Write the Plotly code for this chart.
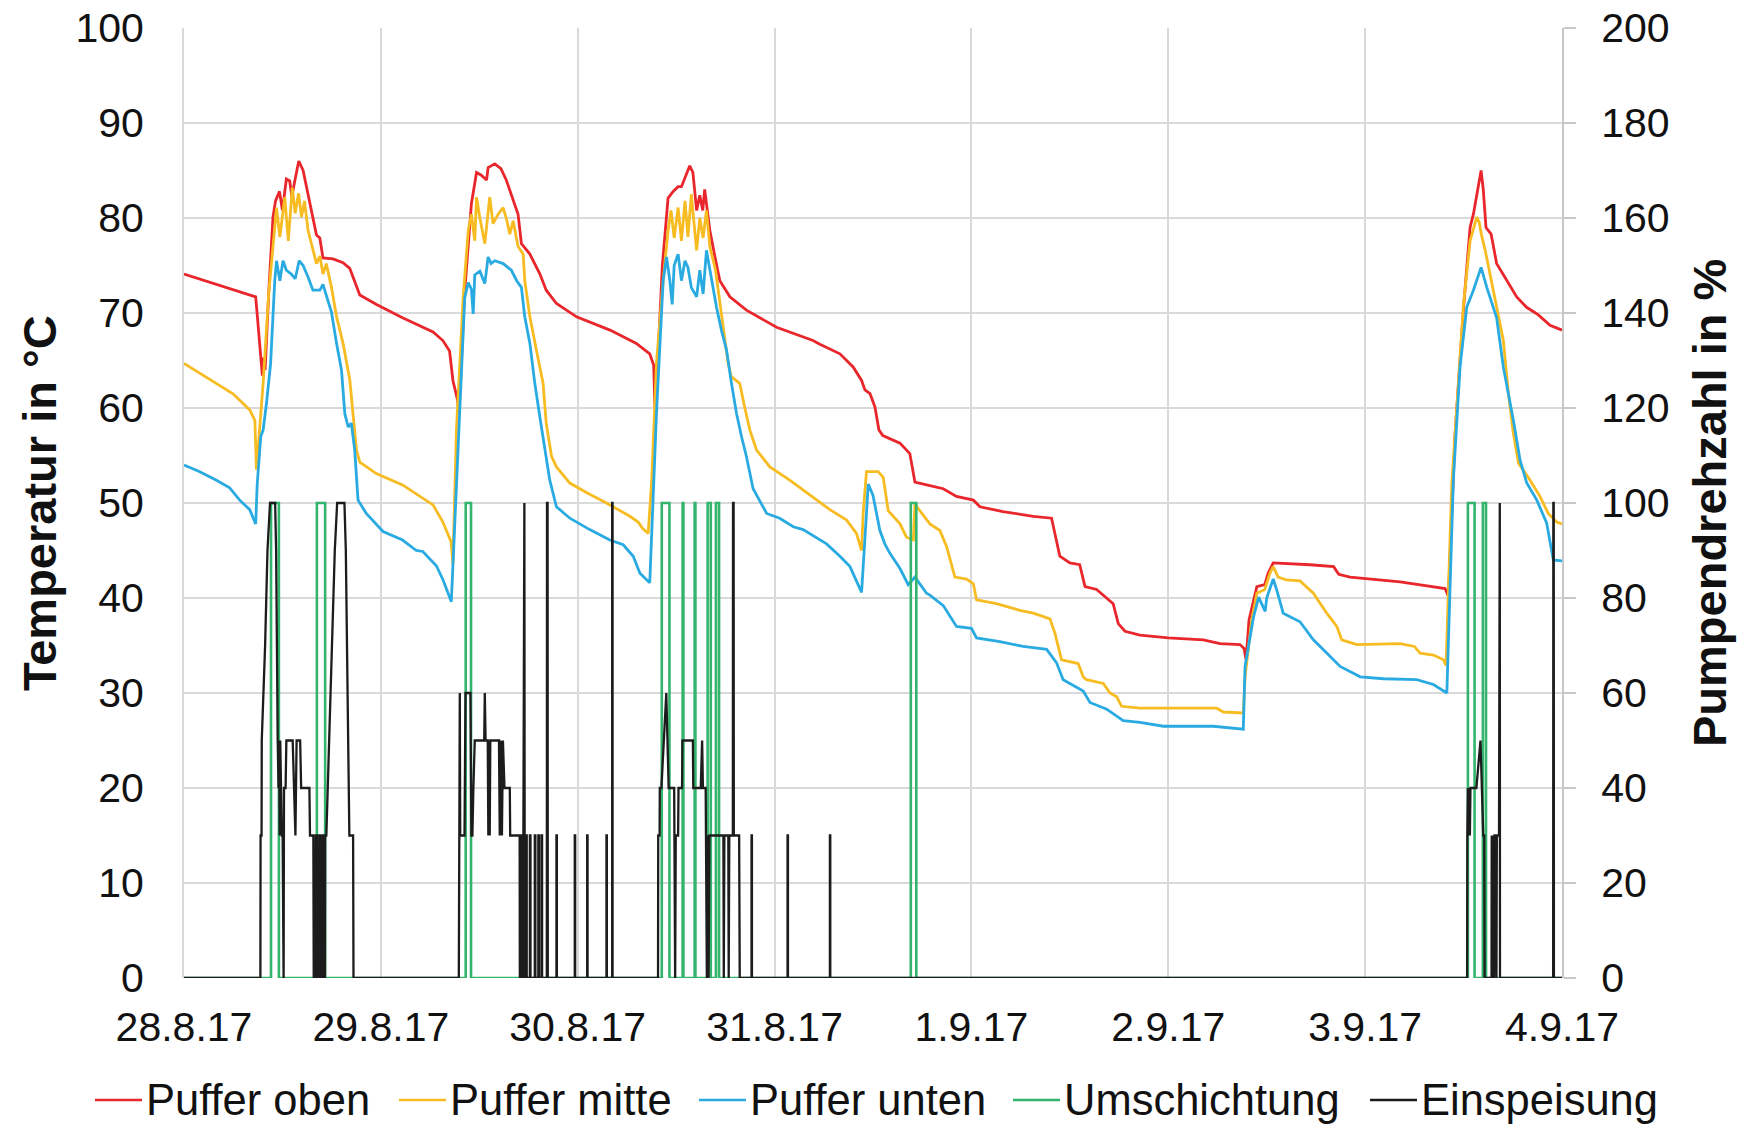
import pandas as pd
import plotly.graph_objects as go

# ---------------------------------------------------------------------------
# Data: time in days after 28.8.17 00:00, temperatures in °C, pump speeds in %
# ---------------------------------------------------------------------------
start = pd.Timestamp("2017-08-28")
n_days = 7
tick_format = "%-d.%-m.%y"

t_oben = [0.0, 0.364, 0.37, 0.398, 0.405, 0.412, 0.43, 0.452, 0.465, 0.485, 0.5, 0.52, 0.537, 0.548,
          0.56, 0.583, 0.605, 0.63, 0.656, 0.673, 0.69, 0.706, 0.757, 0.808, 0.842, 0.893, 0.978,
          1.11, 1.265, 1.315, 1.349, 1.366, 1.39, 1.397, 1.425, 1.452, 1.46, 1.486, 1.51, 1.537,
          1.545, 1.579, 1.61, 1.637, 1.672, 1.697, 1.714, 1.757, 1.808, 1.84, 1.892, 1.994, 2.164,
          2.298, 2.366, 2.386, 2.392, 2.40, 2.43, 2.459, 2.485, 2.51, 2.527, 2.545, 2.569, 2.585,
          2.604, 2.62, 2.635, 2.645, 2.66, 2.671, 2.70, 2.722, 2.773, 2.857, 3.01, 3.195, 3.23,
          3.332, 3.40, 3.442, 3.459, 3.485, 3.51, 3.53, 3.55, 3.637, 3.687, 3.713, 3.772, 3.857,
          3.924, 4.01, 4.043, 4.16, 4.314, 4.407, 4.449, 4.50, 4.55, 4.577, 4.636, 4.695, 4.72,
          4.746, 4.78, 4.856, 5.0, 5.178, 5.263, 5.364, 5.385, 5.395, 5.41, 5.45, 5.49, 5.507,
          5.533, 5.72, 5.84, 5.866, 5.923, 6.178, 6.406, 6.423, 6.457, 6.50, 6.533, 6.55, 6.567,
          6.589, 6.60, 6.614, 6.64, 6.668, 6.70, 6.77, 6.82, 6.88, 6.939, 7.0]
puffer_oben = [74.1, 71.7, 70.3, 63.4, 65.3, 64.0, 72.0, 80.1, 81.8, 82.8, 80.8, 84.1, 83.9, 82.2,
               83.6, 86.0, 85.0, 82.5, 80.1, 78.2, 77.9, 75.8, 75.7, 75.3, 74.7, 71.9, 70.9,
               69.5, 68.0, 67.1, 66.0, 62.9, 60.8, 59.4, 72.0, 80.1, 81.5, 84.8, 84.5, 84.0,
               85.3, 85.7, 85.2, 84.0, 81.8, 80.4, 77.3, 76.2, 74.1, 72.4, 71.0, 69.6, 68.2,
               66.8, 65.7, 64.5, 60.1, 62.0, 75.0, 82.1, 82.8, 83.3, 83.3, 84.2, 85.5, 84.8,
               80.8, 82.4, 80.8, 83.0, 80.4, 78.7, 75.6, 73.4, 71.7, 70.3, 68.5, 67.1, 66.7,
               65.7, 64.3, 62.9, 61.9, 61.5, 60.1, 57.7, 57.1, 56.3, 55.2, 52.2, 51.9, 51.5,
               50.7, 50.3, 49.6, 49.1, 48.6, 48.4, 44.4, 43.7, 43.5, 41.2, 40.9, 39.8, 39.4,
               37.3, 36.5, 36.1, 35.8, 35.6, 35.2, 35.1, 34.7, 33.5, 37.7, 41.2, 41.4, 42.6,
               43.7, 43.5, 43.3, 42.5, 42.2, 41.7, 41.0, 40.2, 57.3, 70.6, 79.0, 80.4, 82.5,
               85.0, 83.0, 79.0, 78.3, 75.2, 74.1, 71.7, 70.6, 69.8, 68.7, 68.2]

t_mitte = [0.0, 0.165, 0.249, 0.334, 0.36, 0.368, 0.38, 0.402, 0.43, 0.461, 0.47, 0.487, 0.512, 0.53,
           0.55, 0.565, 0.582, 0.597, 0.612, 0.63, 0.655, 0.673, 0.69, 0.706, 0.723, 0.749, 0.775,
           0.808, 0.842, 0.859, 0.876, 0.893, 0.977, 1.11, 1.265, 1.315, 1.357, 1.366, 1.384,
           1.418, 1.444, 1.46, 1.477, 1.486, 1.503, 1.528, 1.553, 1.57, 1.596, 1.621, 1.637,
           1.655, 1.672, 1.697, 1.723, 1.731, 1.757, 1.79, 1.824, 1.84, 1.867, 1.892, 1.96, 2.044,
           2.146, 2.265, 2.307, 2.33, 2.358, 2.376, 2.40, 2.434, 2.459, 2.474, 2.49, 2.51, 2.527,
           2.545, 2.56, 2.577, 2.594, 2.604, 2.62, 2.637, 2.654, 2.671, 2.70, 2.722, 2.747, 2.764,
           2.78, 2.823, 2.848, 2.874, 2.908, 2.976, 3.077, 3.196, 3.281, 3.366, 3.416, 3.442,
           3.45, 3.467, 3.526, 3.552, 3.577, 3.637, 3.67, 3.705, 3.713, 3.73, 3.789, 3.84, 3.874,
           3.916, 3.975, 4.01, 4.026, 4.127, 4.246, 4.314, 4.399, 4.424, 4.458, 4.542, 4.568,
           4.585, 4.67, 4.704, 4.738, 4.763, 4.856, 5.093, 5.246, 5.28, 5.381, 5.39, 5.424, 5.45,
           5.49, 5.516, 5.533, 5.558, 5.6, 5.669, 5.737, 5.805, 5.856, 5.881, 5.958, 6.177, 6.25,
           6.279, 6.347, 6.398, 6.411, 6.44, 6.47, 6.50, 6.533, 6.567, 6.58, 6.59, 6.61, 6.635,
           6.668, 6.702, 6.728, 6.753, 6.779, 6.838, 6.888, 6.93, 6.973, 7.0]
puffer_mitte = [64.7, 62.6, 61.5, 59.8, 58.7, 53.5, 57.0, 62.6, 72.0, 79.4, 81.1, 78.0, 82.2, 77.6,
                83.2, 80.5, 82.6, 80.1, 81.8, 78.7, 76.6, 75.2, 76.0, 74.1, 75.2, 72.7, 69.6,
                66.8, 63.0, 59.4, 55.6, 54.3, 53.1, 51.9, 49.8, 48.0, 45.9, 43.6, 57.7,
                71.6, 78.7, 80.4, 77.6, 82.2, 80.0, 77.3, 82.2, 79.4, 80.4, 81.1, 80.0,
                78.3, 79.7, 77.0, 76.2, 73.4, 69.6, 66.1, 62.6, 58.4, 54.9, 53.8, 52.1, 51.1,
                50.0, 48.6, 48.0, 47.3, 46.8, 52.4, 64.7, 73.4, 78.7, 80.8, 77.9, 81.1, 77.6,
                81.8, 78.0, 82.5, 78.7, 76.6, 80.0, 77.9, 80.8, 77.0, 74.5, 71.0, 67.5, 64.7,
                63.3, 62.6, 60.1, 57.7, 55.6, 53.8, 52.4, 50.6, 49.3, 48.2, 46.8, 45.0,
                48.9, 53.3, 53.3, 52.7, 49.2, 47.8, 46.4, 46.1, 49.9, 49.4, 47.8, 47.1, 45.4,
                42.2, 42.0, 41.5, 39.8, 39.4, 38.7, 38.4, 37.8, 36.3, 33.5, 33.1, 31.7,
                31.4, 31.0, 30.0, 29.6, 28.6, 28.4, 28.4, 28.4, 28.0, 27.9, 31.7, 37.7, 40.5,
                40.9, 42.6, 43.3, 42.2, 41.9, 41.8, 40.5, 38.4, 37.0, 35.6, 35.1, 35.2, 34.9,
                34.2, 34.0, 33.5, 32.9, 52.0, 62.0, 71.0, 77.6, 80.1, 79.5, 78.3, 76.6, 74.1,
                70.6, 67.1, 61.5, 57.3, 54.2, 52.4, 50.7, 48.9, 48.0, 47.8]

t_unten = [0.0, 0.08, 0.165, 0.232, 0.283, 0.334, 0.364, 0.372, 0.39, 0.402, 0.419, 0.44, 0.461, 0.47,
           0.487, 0.503, 0.52, 0.545, 0.565, 0.585, 0.605, 0.63, 0.655, 0.69, 0.706, 0.723, 0.749,
           0.775, 0.80, 0.817, 0.834, 0.85, 0.867, 0.884, 0.926, 1.011, 1.11, 1.18, 1.213, 1.282,
           1.316, 1.358, 1.40, 1.426, 1.444, 1.46, 1.469, 1.477, 1.503, 1.528, 1.545, 1.56, 1.579,
           1.621, 1.663, 1.69, 1.714, 1.731, 1.757, 1.782, 1.808, 1.833, 1.858, 1.892, 1.96, 2.061,
           2.163, 2.231, 2.282, 2.316, 2.35, 2.366, 2.40, 2.434, 2.451, 2.468, 2.48, 2.49, 2.51,
           2.527, 2.545, 2.56, 2.577, 2.604, 2.62, 2.637, 2.654, 2.671, 2.688, 2.705, 2.73, 2.756,
           2.781, 2.807, 2.832, 2.857, 2.891, 2.942, 2.96, 3.026, 3.095, 3.145, 3.264, 3.332,
           3.383, 3.442, 3.476, 3.50, 3.535, 3.56, 3.586, 3.637, 3.679, 3.713, 3.772, 3.789,
           3.857, 3.924, 4.0, 4.026, 4.144, 4.263, 4.382, 4.432, 4.466, 4.568, 4.602, 4.687,
           4.771, 4.856, 4.975, 5.229, 5.381, 5.39, 5.433, 5.459, 5.492, 5.50, 5.533, 5.55, 5.584,
           5.669, 5.737, 5.805, 5.873, 5.975, 6.093, 6.262, 6.347, 6.415, 6.448, 6.482, 6.516,
           6.55, 6.589, 6.618, 6.668, 6.702, 6.753, 6.787, 6.821, 6.872, 6.922, 6.956, 7.0]
puffer_unten = [54.0, 53.3, 52.4, 51.6, 50.3, 49.3, 47.8, 52.0, 57.0, 57.7, 60.5, 64.7, 73.4, 75.5,
                73.4, 75.5, 74.5, 74.1, 73.6, 75.5, 75.0, 73.8, 72.4, 72.4, 73.0, 71.9, 70.1,
                66.8, 64.0, 59.4, 58.0, 58.4, 55.6, 50.3, 48.9, 47.0, 46.1, 45.0, 44.9, 43.4,
                41.9, 39.6, 59.4, 71.6, 73.2, 72.5, 69.9, 74.0, 74.4, 73.1, 75.9, 75.2, 75.5,
                75.2, 74.5, 73.4, 72.7, 69.6, 66.8, 62.6, 59.0, 55.6, 52.4, 49.6, 48.4, 47.2,
                46.1, 45.6, 44.4, 42.6, 41.9, 41.6, 59.4, 73.4, 75.9, 73.4, 70.9, 75.0, 76.2,
                73.4, 75.5, 74.8, 72.7, 71.7, 74.5, 72.0, 76.6, 74.5, 72.4, 70.6, 68.2, 66.1,
                62.6, 59.4, 57.0, 54.9, 51.5, 49.6, 48.9, 48.4, 47.5, 47.2, 45.7, 44.4,
                43.3, 40.6, 52.0, 50.8, 47.1, 45.7, 44.7, 43.1, 41.4, 42.2, 40.5, 40.3,
                39.2, 37.0, 36.8, 35.8, 35.4, 34.9, 34.6, 33.2, 31.4, 30.2, 29.0, 28.3,
                27.1, 26.9, 26.5, 26.5, 26.2, 32.8, 38.0, 40.1, 38.6, 40.0, 42.0, 40.9, 38.4,
                37.5, 35.6, 34.2, 32.8, 31.7, 31.5, 31.4, 30.9, 30.0, 52.4, 64.3, 70.6,
                72.4, 74.8, 72.7, 69.5, 64.3, 58.7, 54.5, 52.1, 50.3, 47.9, 44.0, 43.9]

# Umschichtung: pump runs at 100 % between each start and end time
umschichtung_start = [0.442, 0.675, 1.431, 2.427, 2.533, 2.594, 2.660, 2.702, 3.692, 6.522, 6.598]
umschichtung_end = [0.482, 0.717, 1.458, 2.466, 2.537, 2.598, 2.676, 2.718, 3.720, 6.556, 6.614]
umschichtung_level = 100

t_einsp = [0.0, 0.388, 0.389, 0.394, 0.395, 0.405, 0.412, 0.424, 0.437, 0.463, 0.468, 0.476, 0.480,
           0.483, 0.486, 0.489, 0.493, 0.497, 0.501, 0.503, 0.506, 0.508, 0.516, 0.520, 0.552,
           0.566, 0.572, 0.590, 0.595, 0.637, 0.640, 0.657, 0.659, 0.668, 0.669, 0.675, 0.676,
           0.686, 0.687, 0.692, 0.693, 0.702, 0.703, 0.708, 0.709, 0.716, 0.717, 0.723, 0.743,
           0.752, 0.766, 0.778, 0.815, 0.822, 0.828, 0.836, 0.840, 0.859, 0.861,
           1.396, 1.397, 1.400, 1.401, 1.403, 1.425, 1.430, 1.455, 1.460, 1.465, 1.470, 1.477,
           1.525, 1.528, 1.532, 1.543, 1.546, 1.549, 1.553, 1.556, 1.600, 1.604, 1.608, 1.615,
           1.620, 1.628, 1.655, 1.657, 1.705, 1.706, 1.712, 1.712, 1.716, 1.716, 1.720, 1.720,
           1.724, 1.726, 1.729, 1.731, 1.737, 1.737, 1.741, 1.741, 1.757, 1.757, 1.760, 1.760,
           1.782, 1.782, 1.785, 1.785, 1.800, 1.800, 1.803, 1.803, 1.816, 1.816, 1.819, 1.819,
           1.843, 1.844, 1.847, 1.848, 1.892, 1.892, 1.894, 1.894, 1.985, 1.985, 1.987, 1.987,
           2.048, 2.048, 2.050, 2.050, 2.146, 2.146, 2.148, 2.148, 2.175, 2.175, 2.177, 2.177,
           2.408, 2.409, 2.416, 2.417, 2.425, 2.450, 2.462, 2.490, 2.492, 2.495, 2.498, 2.510,
           2.512, 2.530, 2.532, 2.585, 2.587, 2.625, 2.632, 2.636, 2.650, 2.652, 2.656, 2.660,
           2.665, 2.669, 2.740, 2.742, 2.745, 2.765, 2.767, 2.770, 2.788, 2.789, 2.792, 2.793,
           2.820, 2.823, 2.883, 2.883, 2.885, 2.885, 3.066, 3.066, 3.068, 3.068, 3.281, 3.281,
           3.283, 3.283,
           6.518, 6.519, 6.522, 6.525, 6.528, 6.532, 6.535, 6.565, 6.583, 6.586, 6.600, 6.605,
           6.607, 6.642, 6.643, 6.648, 6.650, 6.655, 6.657, 6.665, 6.667, 6.669, 6.680, 6.682,
           6.684, 6.685, 6.955, 6.956, 6.958, 6.959, 7.0]
einspeisung = [0, 0, 30, 30, 50, 60, 70, 90, 100, 100, 90, 50, 40,
               50, 30, 50, 40, 30, 30, 0, 0, 40, 40, 50, 50,
               30, 50, 50, 40, 40, 30, 30, 0, 0, 30, 30, 0,
               0, 30, 30, 0, 0, 30, 30, 0, 0, 30, 30, 60,
               70, 90, 100, 100, 90, 70, 40, 30, 30, 0,
               0, 30, 30, 60, 30, 30, 60, 60, 30, 30, 40, 50,
               50, 60, 50, 50, 30, 50, 30, 50, 50, 30, 50, 30,
               50, 40, 40, 30, 30, 0, 0, 30, 30, 0, 0, 30,
               30, 100, 100, 0, 0, 30, 30, 0, 0, 30, 30, 0,
               0, 30, 30, 0, 0, 30, 30, 0, 0, 30, 30, 0,
               0, 100, 100, 0, 0, 30, 30, 0, 0, 30, 30, 0,
               0, 30, 30, 0, 0, 30, 30, 0, 0, 100, 100, 0,
               0, 30, 30, 40, 40, 60, 40, 40, 30, 0, 30, 30,
               40, 40, 50, 50, 40, 40, 50, 40, 40, 30, 0, 30,
               0, 30, 30, 0, 30, 30, 0, 30, 30, 100, 100, 30,
               30, 0, 0, 30, 30, 0, 0, 30, 30, 0, 0, 30,
               30, 0,
               0, 30, 40, 30, 40, 30, 40, 40, 50, 50, 30, 30,
               0, 0, 30, 0, 30, 0, 30, 30, 0, 30, 30, 100,
               100, 0, 0, 100, 100, 0, 0]

# ---------------------------------------------------------------------------
# Build the Umschichtung on/off signal from the switching times
# ---------------------------------------------------------------------------
t_umsch = [0.0]
umschichtung = [0]
for t_on, t_off in zip(umschichtung_start, umschichtung_end):
    t_umsch += [t_on, t_on, t_off, t_off]
    umschichtung += [0, umschichtung_level, umschichtung_level, 0]
t_umsch.append(float(n_days))
umschichtung.append(0)


def to_time(days):
    return list(start + pd.to_timedelta(days, unit="D"))


FONT = "Liberation Sans, Arial, sans-serif"
GRID = "#d9d9d9"
TEXT = "#111111"

# Figure geometry (pixels)
W, H = 1746, 1125
M_L, M_R, M_T, M_B = 184, 184, 28, 147
PW, PH = W - M_L - M_R, H - M_T - M_B

series = [
    dict(name="Puffer oben", t=t_oben, v=puffer_oben, color="#e8262b", width=2.8, axis="y"),
    dict(name="Puffer mitte", t=t_mitte, v=puffer_mitte, color="#f7bc22", width=2.8, axis="y"),
    dict(name="Puffer unten", t=t_unten, v=puffer_unten, color="#29abe2", width=2.8, axis="y"),
    dict(name="Umschichtung", t=t_umsch, v=umschichtung, color="#34b56e", width=2.6, axis="y2"),
    dict(name="Einspeisung", t=t_einsp, v=einspeisung, color="#1c1c1c", width=2.3, axis="y2"),
]

fig = go.Figure()
for s in series:
    fig.add_trace(go.Scatter(x=to_time(s["t"]), y=s["v"], name=s["name"], mode="lines",
                             line=dict(color=s["color"], width=s["width"]), yaxis=s["axis"],
                             showlegend=False))

# Legend row below the axis: short colour stroke followed by the series name
legend_x0 = [95, 399, 699, 1013, 1370]   # left end of each stroke, px
legend_stroke = 47
legend_y = 1100
shapes = []
annotations = []
for s, x0 in zip(series, legend_x0):
    yp = (M_T + PH - legend_y) / PH
    shapes.append(dict(type="line", xref="paper", yref="paper",
                       x0=(x0 - M_L) / PW, x1=(x0 + legend_stroke - M_L) / PW, y0=yp, y1=yp,
                       line=dict(color=s["color"], width=2.6)))
    annotations.append(dict(text=s["name"], xref="paper", yref="paper",
                            x=(x0 + legend_stroke + 2 - M_L) / PW, y=yp,
                            xanchor="left", yanchor="middle", showarrow=False,
                            font=dict(size=43.5, family=FONT, color=TEXT)))

annotations += [
    dict(text="<b>Temperatur in °C</b>", x=(39 - M_L) / PW, y=0.5, xref="paper", yref="paper",
         textangle=-90, showarrow=False, xanchor="center", yanchor="middle",
         font=dict(size=47, family=FONT, color=TEXT)),
    dict(text="<b>Pumpendrehzahl in %</b>", x=(1709 - M_L) / PW, y=0.5, xref="paper", yref="paper",
         textangle=-90, showarrow=False, xanchor="center", yanchor="middle",
         font=dict(size=47, family=FONT, color=TEXT)),
]

fig.update_layout(
    width=W, height=H,
    margin=dict(l=M_L, r=M_R, t=M_T, b=M_B, autoexpand=False),
    paper_bgcolor="white", plot_bgcolor="white",
    font=dict(family=FONT, size=41, color=TEXT),
    showlegend=False,
    xaxis=dict(
        type="date",
        range=[start, start + pd.Timedelta(days=n_days)],
        tick0=start, dtick=86400000, tickformat=tick_format,
        showgrid=True, gridcolor=GRID, gridwidth=2,
        showline=False, zeroline=False, ticks="",
        ticklabelstandoff=21,
        tickfont=dict(size=41),
    ),
    yaxis=dict(
        range=[0, 100], dtick=10,
        showgrid=True, gridcolor=GRID, gridwidth=2,
        showline=True, linecolor=GRID, linewidth=2,
        zeroline=False, ticks="", ticklabelstandoff=30,
        tickfont=dict(size=41),
    ),
    yaxis2=dict(
        range=[0, 200], dtick=20, overlaying="y", side="right",
        showgrid=False, zeroline=False,
        showline=True, linecolor="#c8c8c8", linewidth=2,
        ticks="outside", ticklen=12, tickwidth=2, tickcolor="#c8c8c8",
        ticklabelstandoff=17,
        tickfont=dict(size=41),
    ),
    shapes=shapes,
    annotations=annotations,
)

fig.write_html("out.html")
